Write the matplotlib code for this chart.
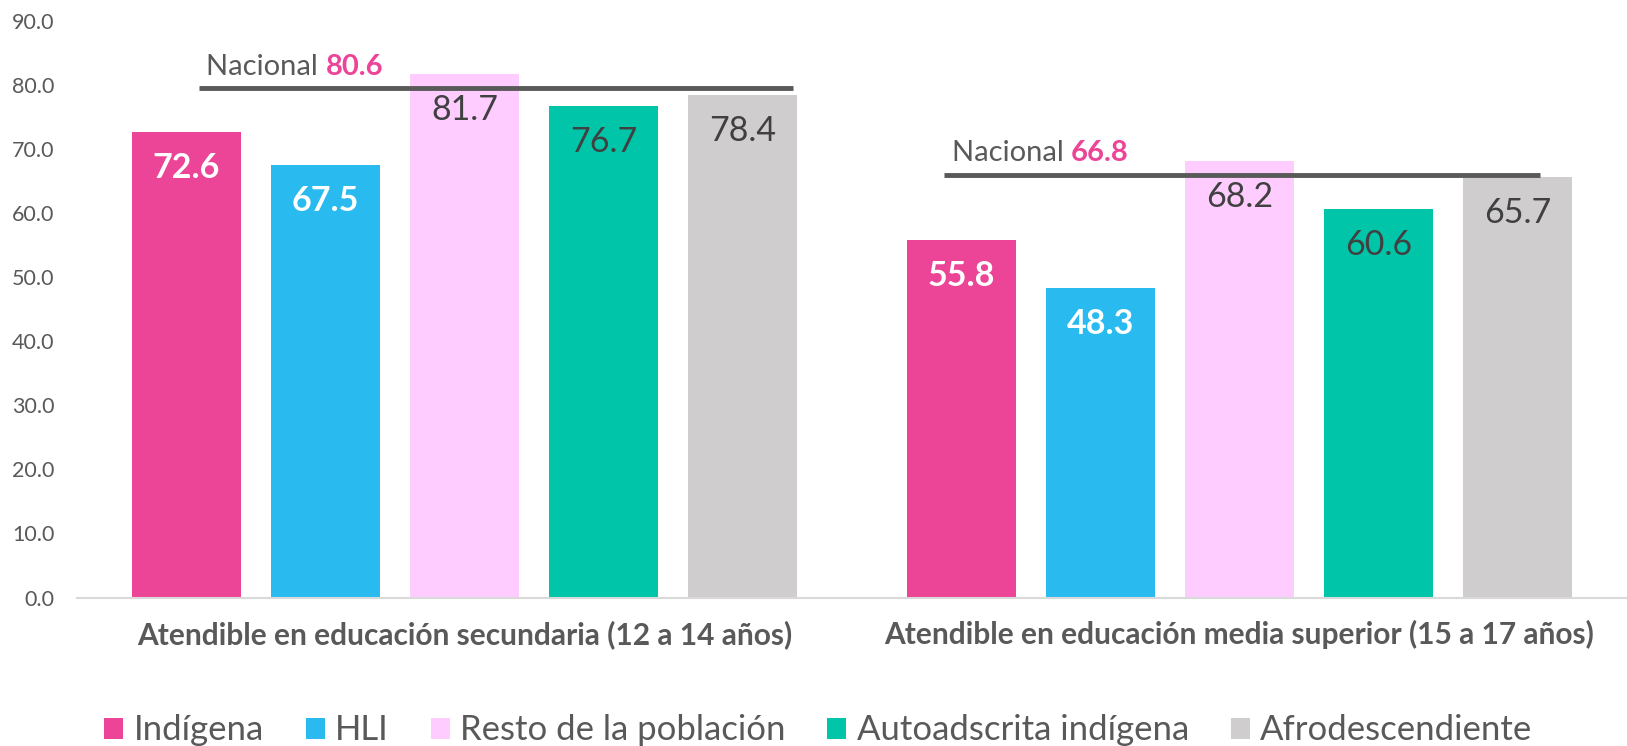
import matplotlib
matplotlib.use("Agg")
import matplotlib.pyplot as plt
from matplotlib.patches import Patch
import numpy as np

plt.rcParams['font.family'] = ['Lato', 'DejaVu Sans']

categories = ["Atendible en educación secundaria (12 a 14 años)",
              "Atendible en educación media superior (15 a 17 años)"]
series = ["Indígena", "HLI", "Resto de la población", "Autoadscrita indígena", "Afrodescendiente"]
values = {
    "Indígena": [72.6, 55.8],
    "HLI": [67.5, 48.3],
    "Resto de la población": [81.7, 68.2],
    "Autoadscrita indígena": [76.7, 60.6],
    "Afrodescendiente": [78.4, 65.7],
}
nacional = [80.6, 66.8]
nacional_line_level = [79.5, 66.0]
yticks = [0, 10, 20, 30, 40, 50, 60, 70, 80, 90]

colors = ["#EC4496", "#29BBF0", "#FFCCFF", "#00C5A8", "#CFCDCE"]
label_colors = ["white", "white", "#404040", "#404040", "#404040"]
label_weights = ["bold", "bold", "normal", "normal", "normal"]
gray = "#595959"

fig = plt.figure(figsize=(16.27, 7.46), dpi=100)
ax = fig.add_axes([0.0473, 0.199, 0.9527, 0.773])

x = np.arange(len(categories))
step = 0.1794
width = 0.1406
for i, s in enumerate(series):
    pos = x + (i - 2) * step
    ax.bar(pos, values[s], width=width, color=colors[i], label=s)
    for xp, v in zip(pos, values[s]):
        ax.annotate(f"{v:.1f}", xy=(xp, v), xytext=(0, -26), textcoords="offset points",
                    ha="center", va="center", fontsize=24.5, color=label_colors[i],
                    fontweight=label_weights[i])

# nacional lines
line_ext = [(-0.343, 0.424), (-0.381, 0.388)]
for k in range(len(categories)):
    x0, x1 = x[k] + line_ext[k][0], x[k] + line_ext[k][1]
    ax.plot([x0, x1], [nacional_line_level[k]] * 2, color=gray, lw=3.5, solid_capstyle="butt", zorder=5)
    t1 = ax.text(x0 + 0.01, nacional_line_level[k] + 1.3, "Nacional ", fontsize=21, color=gray,
                 ha="left", va="bottom")
    ax.annotate(f"{nacional[k]:.1f}", xy=(1, 0), xycoords=t1, ha="left", va="bottom",
                fontsize=21, color="#EC4496", fontweight="bold")

ax.set_xlim(-0.5, 1.5)
ax.set_ylim(0, 90)
ax.set_yticks(yticks)
ax.set_yticklabels([f"{t:.1f}" for t in yticks])
ax.set_xticks(x)
ax.set_xticklabels(categories, fontsize=21.5, fontweight="bold", color=gray)
ax.tick_params(axis="y", length=0, labelsize=15.5, labelcolor=gray, pad=16)
ax.tick_params(axis="x", length=0, pad=16)
for sp in ["top", "right", "left"]:
    ax.spines[sp].set_visible(False)
ax.spines["bottom"].set_color("#D9D9D9")
ax.spines["bottom"].set_linewidth(1.5)

handles = [Patch(facecolor=c, edgecolor="none") for c in colors]
fig.legend(handles, series, loc="center", bbox_to_anchor=(0.503, 0.021), ncol=5, frameon=False,
           fontsize=25, handlelength=0.55, handleheight=0.55, handletextpad=0.3,
           columnspacing=1.2, labelcolor=gray)

fig.savefig("out.png", dpi=100)
